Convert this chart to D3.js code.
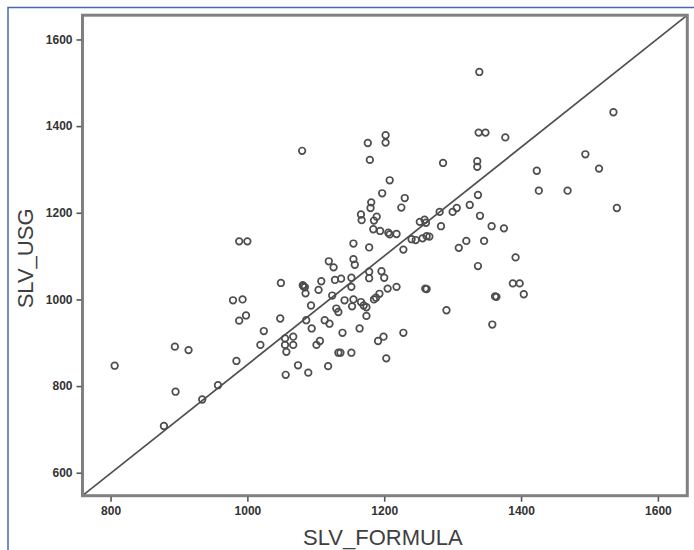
<!DOCTYPE html>
<html>
<head>
<meta charset="utf-8">
<script src="https://cdn.jsdelivr.net/npm/d3@7"></script>
<style>
  html, body { margin: 0; padding: 0; background: #ffffff; }
  svg { display: block; }
</style>
</head>
<body>
<svg id="chart" width="694" height="550"></svg>
<script>
// SLV_FORMULA (x) and SLV_USG (y)
const formula = [
  806, 894, 914, 895, 878, 934, 957, 984,
  979, 993, 988, 998, 988, 1000,
  1024, 1019, 1048, 1049,
  1055, 1067, 1055, 1067, 1057, 1056, 1074, 1089,
  1081, 1082, 1084, 1085, 1086, 1094, 1093,
  1101, 1106, 1104, 1108, 1113, 1120, 1118,
  1119, 1126, 1124, 1128, 1137, 1130, 1133,
  1133, 1136, 1139, 1142, 1152,
  1152, 1152, 1155, 1153, 1166, 1170, 1174,
  1155, 1157, 1155, 1164, 1174, 1178, 1178, 1178, 1196, 1200,
  1185, 1188, 1193, 1205, 1218,
  1199, 1191, 1228, 1203,
  1166, 1167, 1181, 1180, 1185, 1189, 1184, 1194,
  1176, 1179, 1202, 1202, 1208, 1197,
  1206, 1208, 1218, 1230, 1225, 1228,
  1240, 1246, 1252, 1259, 1261, 1256, 1262, 1266,
  1260, 1262,
  1281, 1283, 1286, 1291, 1300, 1306, 1325,
  1309, 1320, 1337, 1340, 1336, 1336, 1339, 1338, 1348, 1377,
  1357, 1346, 1375, 1337, 1362, 1364, 1358,
  1392, 1388, 1398, 1404,
  1423, 1426, 1468, 1494, 1514, 1535, 1540,
  1080
];
const usg = [
  847, 891, 883, 787, 708, 769, 802, 858,
  998, 1000, 951, 963, 1134, 1134,
  927, 895, 956, 1038,
  910, 914, 895, 895, 879, 826, 848, 831,
  1033, 1030, 1028, 1014, 952, 933, 986,
  895, 904, 1022, 1042, 952, 944, 846,
  1088, 1074, 1009, 1045, 1048, 979, 971,
  877, 877, 923, 998, 877,
  1029, 1050, 1000, 984, 994, 986, 982,
  1093, 1080, 1129, 933, 962, 1120, 1064, 1049, 1065, 1050,
  1000, 1004, 1013, 1025, 1029,
  914, 904, 923, 864,
  1196, 1183, 1224, 1211, 1182, 1191, 1162, 1158,
  1361, 1322, 1379, 1362, 1275, 1245,
  1154, 1150, 1151, 1234, 1212, 1115,
  1139, 1137, 1179, 1184, 1177, 1141, 1146, 1145,
  1025, 1024,
  1202, 1169, 1315, 975, 1202, 1211, 1218,
  1119, 1135, 1241, 1193, 1319, 1306, 1525, 1385, 1385, 1374,
  1169, 1135, 1164, 1077, 1007, 1006, 942,
  1097, 1037, 1037, 1012,
  1297, 1251, 1251, 1335, 1302, 1432, 1211,
  1343
];
const xTicks = [800, 1000, 1200, 1400, 1600];
const yTicks = [600, 800, 1000, 1200, 1400, 1600];
const xTitle = "SLV_FORMULA";
const yTitle = "SLV_USG";

const svg = d3.select("#chart");

// outer blue border (cropped figure: only top and left visible)
svg.append("rect")
  .attr("x", 8).attr("y", 7.5)
  .attr("width", 720).attr("height", 600)
  .attr("fill", "none")
  .attr("stroke", "#4468b8")
  .attr("stroke-width", 1.5);

const pL = 82.5, pR = 687.3, pT = 15.2, pB = 495.7;

const x = d3.scaleLinear().domain([759, 1643]).range([pL, pR]);
const y = d3.scaleLinear().domain([547, 1656]).range([pB, pT]);

// diagonal reference line corner to corner
svg.append("line")
  .attr("x1", x(759)).attr("y1", y(547))
  .attr("x2", x(1643)).attr("y2", y(1656))
  .attr("stroke", "#505050")
  .attr("stroke-width", 1.7);

// points
svg.append("g")
  .selectAll("circle")
  .data(formula.map((v, i) => [v, usg[i]]))
  .join("circle")
  .attr("cx", d => x(d[0]))
  .attr("cy", d => y(d[1]))
  .attr("r", 3.3)
  .attr("fill", "none")
  .attr("stroke", "#4d4d4d")
  .attr("stroke-width", 1.7);

// frame
svg.append("rect")
  .attr("x", pL).attr("y", pT)
  .attr("width", pR - pL).attr("height", pB - pT)
  .attr("fill", "none")
  .attr("stroke", "#808080")
  .attr("stroke-width", 3);

// axes
const xAxis = svg.append("g")
  .attr("transform", `translate(0,${pB + 1})`)
  .call(d3.axisBottom(x).tickValues(xTicks).tickSize(5).tickPadding(5).tickFormat(d3.format("d")));
const yAxis = svg.append("g")
  .attr("transform", `translate(${pL - 1},0)`)
  .call(d3.axisLeft(y).tickValues(yTicks).tickSize(5).tickPadding(4).tickFormat(d3.format("d")));

[xAxis, yAxis].forEach(g => {
  g.select(".domain").remove();
  g.selectAll(".tick line").attr("stroke", "#555").attr("stroke-width", 1.6);
  g.selectAll(".tick text")
    .attr("fill", "#333")
    .style("font-family", "'Liberation Sans', Arial, sans-serif")
    .style("font-size", "12px")
    .style("font-weight", "bold");
});

// axis titles
svg.append("text")
  .attr("x", (pL + pR) / 2 - 2)
  .attr("y", 544.5)
  .attr("text-anchor", "middle")
  .attr("fill", "#3f3f3f")
  .style("font-family", "'Liberation Sans', Arial, sans-serif")
  .style("font-size", "22px")
  .text(xTitle);

svg.append("text")
  .attr("transform", `translate(33,${(pT + pB) / 2 + 3}) rotate(-90)`)
  .attr("text-anchor", "middle")
  .attr("fill", "#3f3f3f")
  .style("font-family", "'Liberation Sans', Arial, sans-serif")
  .style("font-size", "22px")
  .text(yTitle);
</script>
</body>
</html>
